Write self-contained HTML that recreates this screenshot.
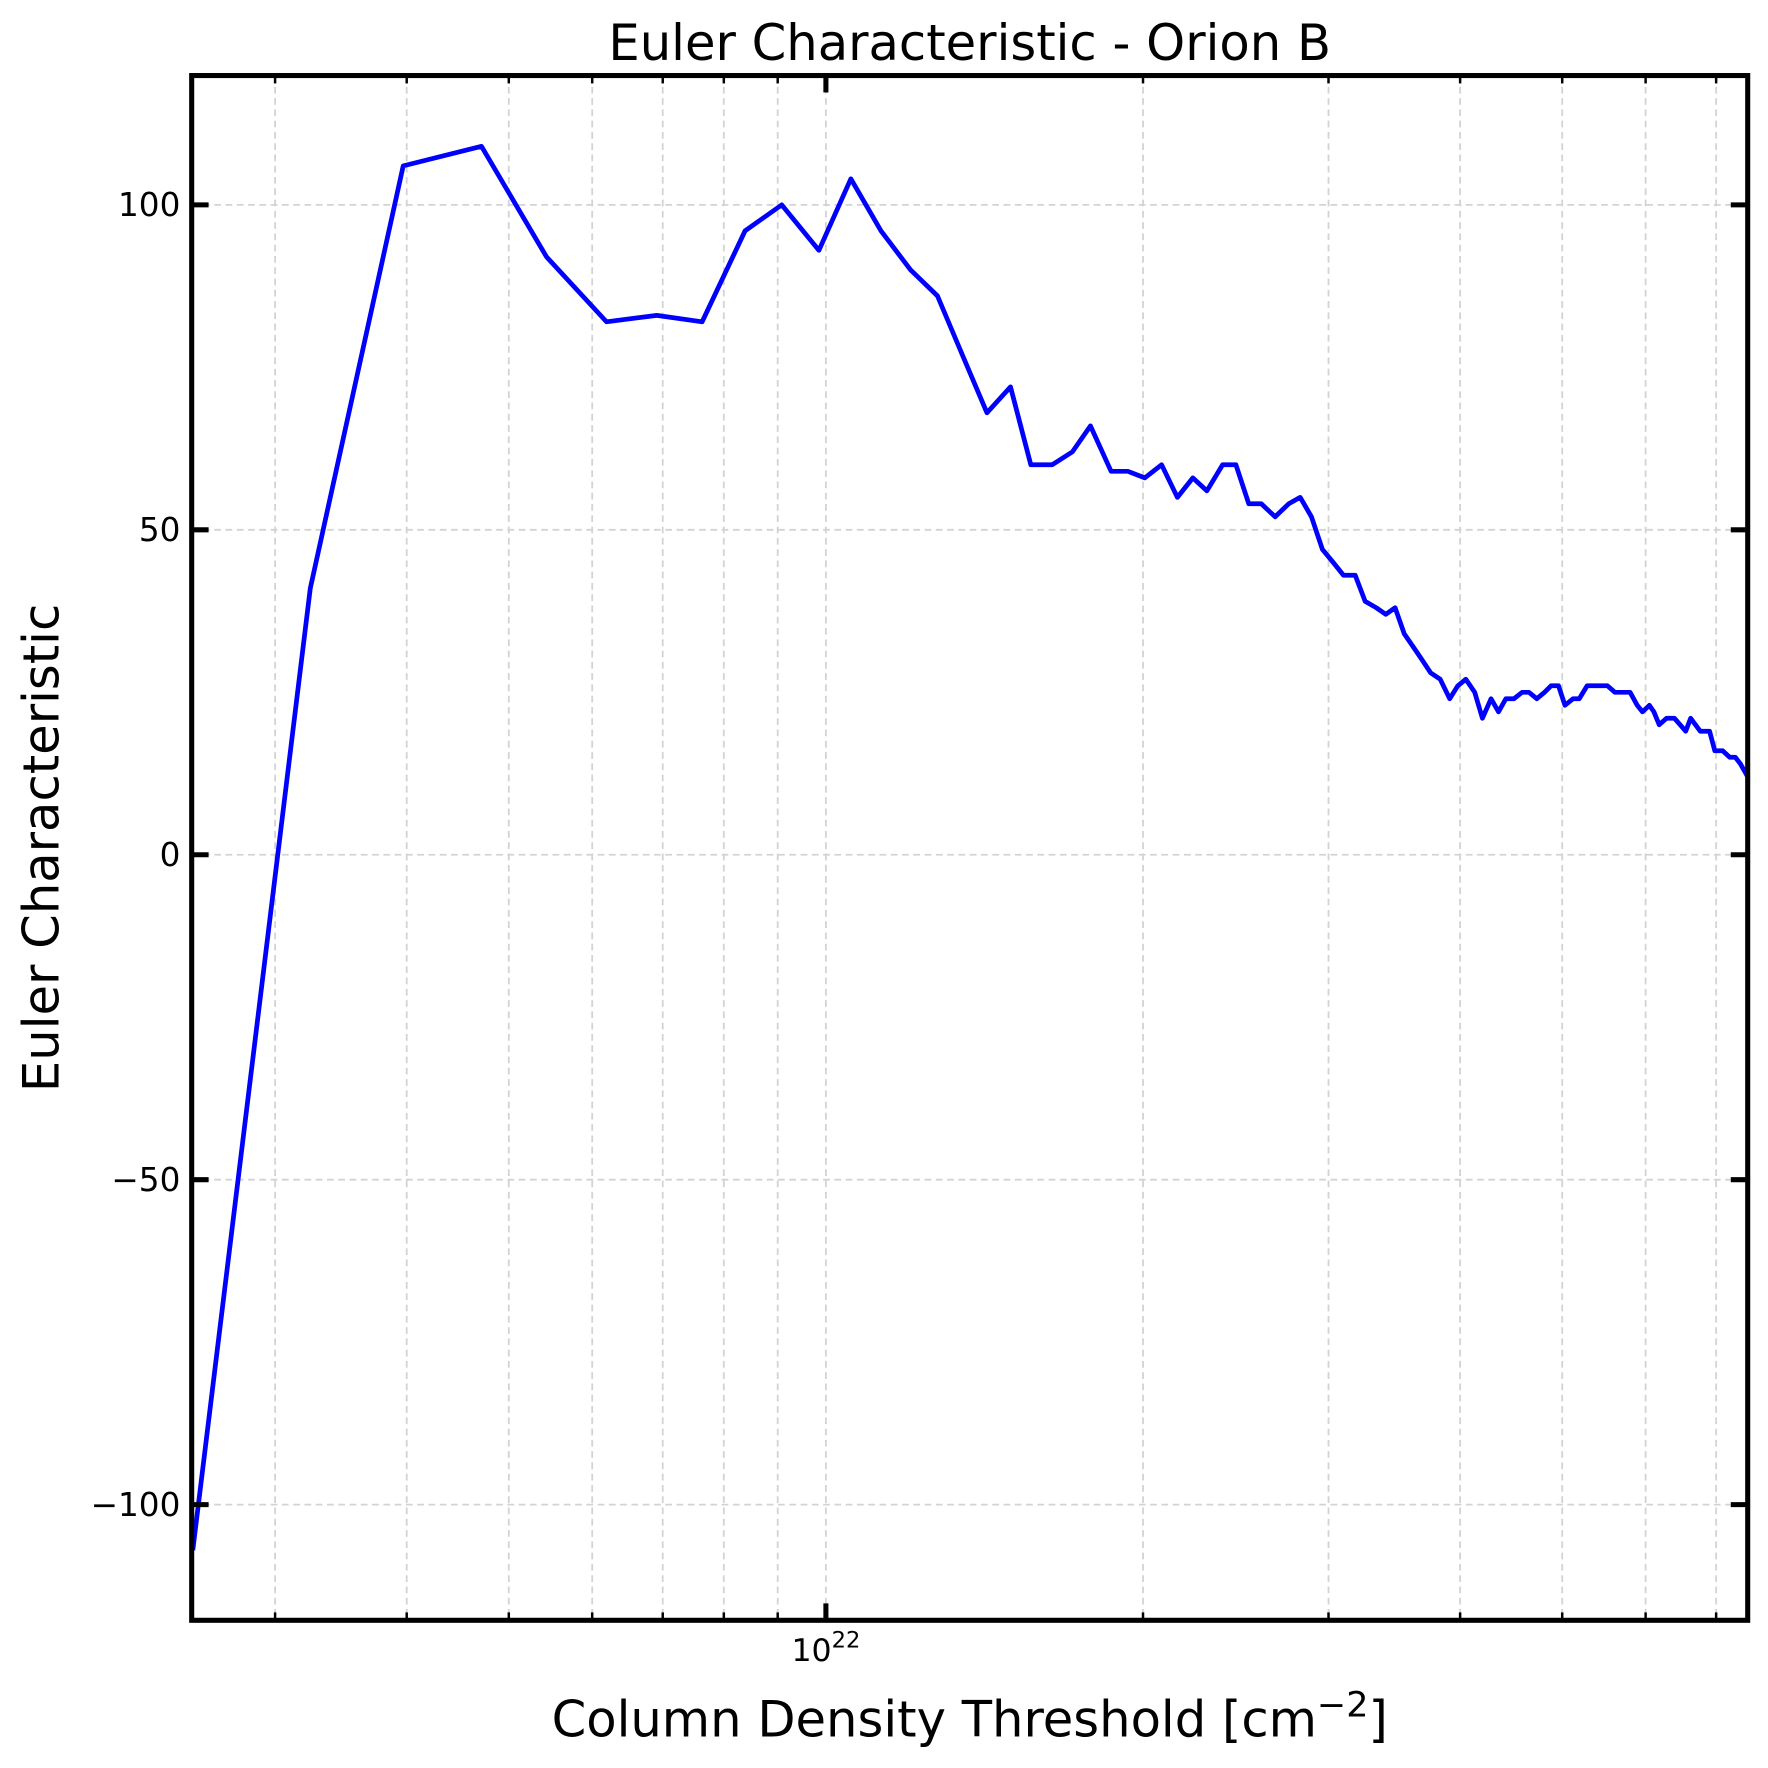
<!DOCTYPE html>
<html><head><meta charset="utf-8"><style>
html,body{margin:0;padding:0;background:#fff}
svg{display:block}
text{font-family:"DejaVu Sans","Liberation Sans",sans-serif;fill:#000}
</style></head><body>
<svg id="chart" width="1768" height="1768" viewBox="0 0 1568 1568" xmlns="http://www.w3.org/2000/svg">
<rect x="0" y="0" width="1568" height="1568" fill="#fff"/>
<g id="grid"></g>
<g id="series"></g>
<g id="axes"></g>
<text x="860" y="53" font-size="44" text-anchor="middle">Euler Characteristic - Orion B</text>
<text x="860" y="1540" font-size="44" text-anchor="middle">Column Density Threshold [cm<tspan baseline-shift="super" font-size="31">−2</tspan>]</text>
<text transform="translate(52,752) rotate(-90)" font-size="44" text-anchor="middle">Euler Characteristic</text>
</svg>
<script>
// x in units of 1e21 cm^-2
const xValues = [2.506,3.24,3.97,4.71,5.43,6.19,6.91,7.63,8.38,9.08,9.85,10.56,11.28,12.03,12.76,13.47,14.22,14.97,15.65,16.4,17.14,17.83,18.65,19.35,20.08,20.83,21.56,22.3,23.0,23.8,24.5,25.2,25.9,26.7,27.5,28.2,28.9,29.6,30.3,31.0,31.8,32.5,33.3,34.0,34.7,35.4,36.1,36.8,37.5,38.3,39.1,39.8,40.5,41.3,42.0,42.8,43.5,44.2,45.0,45.8,46.5,47.3,48.1,48.8,49.6,50.3,51.2,51.9,52.8,53.6,54.4,55.2,56.1,56.9,58.0,58.9,59.6,60.5,61.1,61.8,62.8,63.9,64.7,65.5,66.2,67.6,69.0,69.8,71.0,72.1,73.0,73.8,75.0];
const eulerValues = [-107,41,106,109,92,82,83,82,96,100,93,104,96,90,86,77,68,72,60,60,62,66,59,59,58,60,55,58,56,60,60,54,54,52,54,55,52,47,45,43,43,39,38,37,38,34,32,30,28,27,24,26,27,25,21,24,22,24,24,25,25,24,25,26,26,23,24,24,26,26,26,26,25,25,25,23,22,23,22,20,21,21,20,19,21,19,19,16,16,15,15,14,12];
const yTicks = [-100,-50,0,50,100];
const yTickLabels = ["−100","−50","0","50","100"];
const xMajorTicks = [10];
const xMajorLabels = ["10"];
const xMinorTicks = [3,4,5,6,7,8,9,20,30,40,50,60,70];

const L=170,R=1550,T=67,B=1437;
const xMin=2.5,xMax=75,yMin=-117.8,yMax=119.9;
const NS="http://www.w3.org/2000/svg";
function sx(v){return L+(Math.log10(v)-Math.log10(xMin))/(Math.log10(xMax)-Math.log10(xMin))*(R-L);}
function sy(v){return B-(v-yMin)/(yMax-yMin)*(B-T);}
function mk(tag,attrs,parent){const e=document.createElementNS(NS,tag);for(const k in attrs)e.setAttribute(k,attrs[k]);parent.appendChild(e);return e;}
const grid=document.getElementById('grid'),axes=document.getElementById('axes'),series=document.getElementById('series');
const gs={stroke:'#d3d3d3','stroke-width':1.6,'stroke-dasharray':'6,4'};
yTicks.forEach((t,i)=>{const y=sy(t);
 const g=mk('line',Object.assign({x1:L,x2:R,y1:y,y2:y},gs),grid);
 
 
 const a=mk('line',{x1:L,x2:L+15,y1:y,y2:y,stroke:'#000','stroke-width':4.5},axes);
 
 
 const b=mk('line',{x1:R-15,x2:R,y1:y,y2:y,stroke:'#000','stroke-width':4.5},axes);
 
 
 const tx=mk('text',{x:L-10,y:y+10,'font-size':29,'text-anchor':'end'},axes);
 tx.textContent=yTickLabels[i];
 
 
});
xMinorTicks.forEach(t=>{const x=sx(t);
 const g=mk('line',Object.assign({x1:x,x2:x,y1:T,y2:B},gs),grid);
 
 
 const a=mk('line',{x1:x,x2:x,y1:B-7,y2:B,stroke:'#000','stroke-width':2.2},axes);
 
 
 const b=mk('line',{x1:x,x2:x,y1:T,y2:T+7,stroke:'#000','stroke-width':2.2},axes);
 
 
});
xMajorTicks.forEach((t,i)=>{const x=sx(t);
 const g=mk('line',Object.assign({x1:x,x2:x,y1:T,y2:B},gs),grid);
 
 
 const a=mk('line',{x1:x,x2:x,y1:B-15,y2:B,stroke:'#000','stroke-width':4.5},axes);
 
 
 const b=mk('line',{x1:x,x2:x,y1:T,y2:T+15,stroke:'#000','stroke-width':4.5},axes);
 
 
 const tx=mk('text',{x:x,y:B+36,'font-size':28,'text-anchor':'middle'},axes);
 tx.innerHTML=xMajorLabels[i]+'<tspan dy="-12" font-size="20">22</tspan>';
 
 
});
const pts=xValues.map((v,i)=>sx(v).toFixed(1)+','+sy(eulerValues[i]).toFixed(1)).join(' ');
const pl=mk('polyline',{points:pts,fill:'none',stroke:'#0000ff','stroke-width':4.2,'stroke-linejoin':'round'},series);


const fr=mk('rect',{x:L,y:T,width:R-L,height:B-T,fill:'none',stroke:'#000','stroke-width':4.5},axes);


</script>
</body></html>
